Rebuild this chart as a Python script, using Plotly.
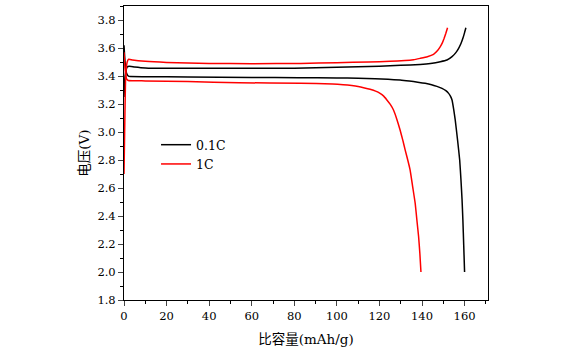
import plotly.graph_objects as go

# 0.1C charge / discharge (specific capacity mAh/g, voltage V)
c01_charge_x = [0, 0.5, 1.5, 2.5, 5, 10, 20, 40, 60, 80, 100, 120, 130, 139.1, 144, 148.6, 151.7, 154.1, 155.8, 157.2, 158.3, 159.2, 160, 160.6]
c01_charge_v = [3.25, 3.40, 3.465, 3.47, 3.465, 3.458, 3.455, 3.455, 3.455, 3.456, 3.462, 3.47, 3.476, 3.483, 3.49, 3.502, 3.514, 3.538, 3.565, 3.598, 3.632, 3.669, 3.71, 3.745]
c01_dis_x = [0, 0.5, 1.2, 2, 3, 10, 30, 60, 82, 100, 110, 118, 124, 129.7, 134, 138, 141.5, 144.5, 147, 149.4, 151.2, 152.5, 153.4, 154.1, 154.9, 155.6, 156.7, 157.7, 158.3, 158.8, 159.2, 159.6, 160]
c01_dis_v = [3.62, 3.50, 3.42, 3.40, 3.396, 3.395, 3.393, 3.39, 3.388, 3.386, 3.384, 3.381, 3.376, 3.371, 3.364, 3.356, 3.348, 3.338, 3.326, 3.312, 3.295, 3.276, 3.255, 3.229, 3.16, 3.086, 2.943, 2.8, 2.657, 2.52, 2.371, 2.19, 2.0]

# 1C charge / discharge
c1_charge_x = [0, 0.3, 0.8, 1.5, 2.2, 4, 10, 20, 40, 60, 83, 100, 115, 125, 132, 136, 139.1, 142.5, 145.4, 147.2, 148.6, 149.6, 150.4, 151.2, 152.0]
c1_charge_v = [2.70, 3.0, 3.40, 3.50, 3.52, 3.515, 3.505, 3.497, 3.49, 3.488, 3.49, 3.495, 3.50, 3.505, 3.51, 3.516, 3.526, 3.538, 3.555, 3.58, 3.61, 3.638, 3.669, 3.705, 3.745]
c1_dis_x = [0, 0.5, 1.2, 2, 10, 30, 54, 83, 98, 103, 107, 110, 113, 115.6, 118.2, 120.3, 122, 123.5, 125.1, 126.6, 128.2, 129.7, 131, 132.1, 133.3, 134.4, 135.6, 136.8, 137.6, 138.4, 139, 139.5]
c1_dis_v = [3.57, 3.45, 3.38, 3.368, 3.365, 3.36, 3.352, 3.348, 3.343, 3.338, 3.332, 3.325, 3.315, 3.305, 3.292, 3.276, 3.256, 3.229, 3.197, 3.157, 3.09, 3.014, 2.94, 2.871, 2.80, 2.729, 2.61, 2.49, 2.37, 2.252, 2.13, 2.0]

series_names = ["0.1C", "1C"]
series_colors = ["#000000", "#ff0000"]

x_ticks = [0, 20, 40, 60, 80, 100, 120, 140, 160]
y_ticks = [1.8, 2.0, 2.2, 2.4, 2.6, 2.8, 3.0, 3.2, 3.4, 3.6, 3.8]

fig = go.Figure()
data = [
    (c01_charge_x, c01_charge_v, c01_dis_x, c01_dis_v),
    (c1_charge_x, c1_charge_v, c1_dis_x, c1_dis_v),
]
for (cx, cv, dx, dv), name, color in zip(data, series_names, series_colors):
    fig.add_trace(go.Scatter(
        x=cx + [None] + dx, y=cv + [None] + dv,
        mode="lines", name=name,
        line=dict(color=color, width=1.5, shape="spline", smoothing=0.4),
        connectgaps=False,
    ))

serif = "DejaVu Serif, Noto Sans CJK SC"
fig.update_layout(
    width=572, height=352,
    margin=dict(l=124, r=84, t=6, b=52),
    paper_bgcolor="white", plot_bgcolor="white",
    font=dict(family=serif, size=12, color="#000000"),
    showlegend=True,
    legend=dict(x=0.088, y=0.578, xanchor="left", yanchor="top",
                bgcolor="rgba(0,0,0,0)", font=dict(size=12.5, family=serif),
                itemwidth=30, tracegroupgap=0),
    xaxis=dict(
        range=[0, 171], tickvals=x_ticks, ticks="outside", ticklen=5, tickwidth=1,
        minor=dict(dtick=10, ticks="outside", ticklen=3, tickwidth=1, tickcolor="#000"),
        showline=True, linecolor="#000", linewidth=1, mirror=True,
        showgrid=False, zeroline=False,
        tickfont=dict(size=11.5, family=serif),
        title=dict(text="比容量(mAh/g)", font=dict(size=13.5, family=serif), standoff=12),
    ),
    yaxis=dict(
        range=[1.8, 3.9], tickvals=y_ticks, tickformat=".1f", ticks="outside", ticklen=5, tickwidth=1,
        minor=dict(dtick=0.1, ticks="outside", ticklen=3, tickwidth=1, tickcolor="#000"),
        showline=True, linecolor="#000", linewidth=1, mirror=True,
        showgrid=False, zeroline=False,
        tickfont=dict(size=11.5, family=serif),
        title=dict(text="电压(V)", font=dict(size=13.5, family=serif), standoff=4),
    ),
)

fig.write_html("out.html")
